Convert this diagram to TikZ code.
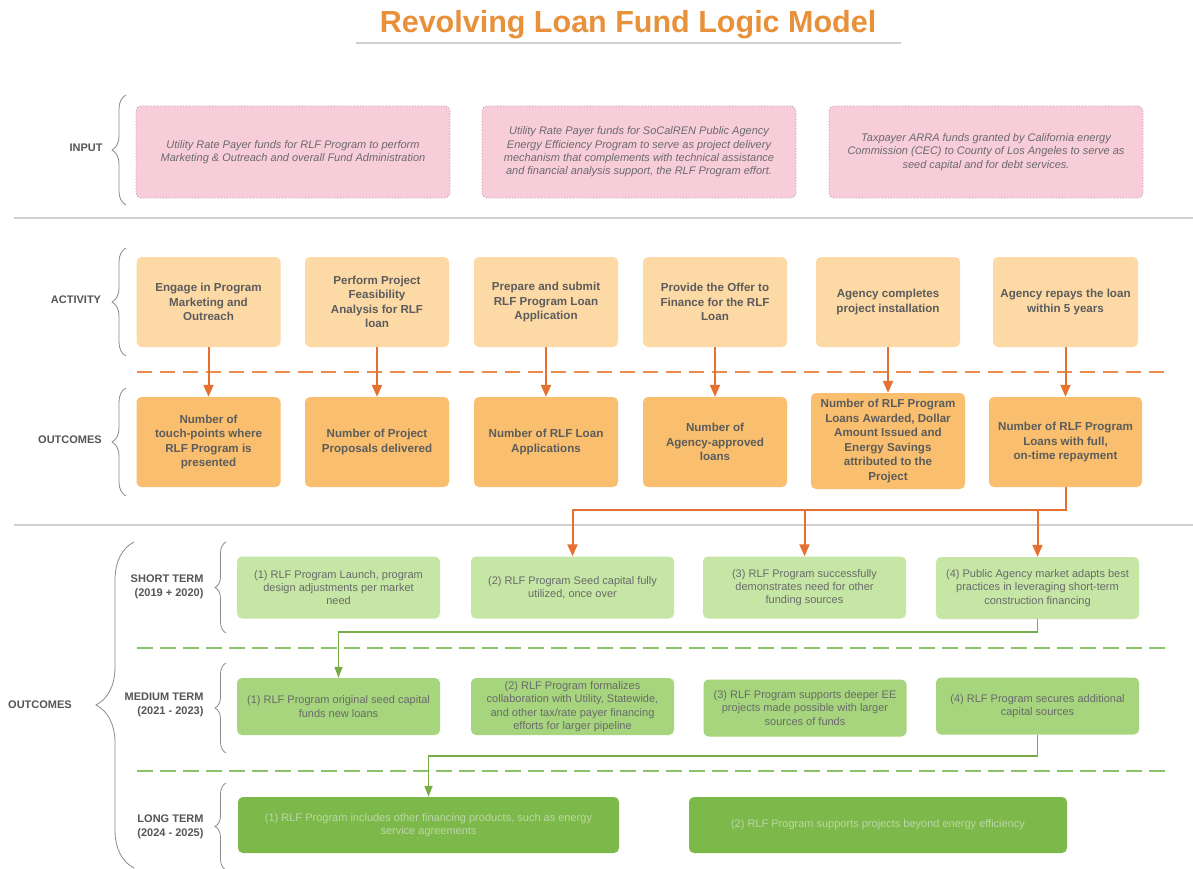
\documentclass[tikz,border=0pt]{standalone}
\usepackage{fontspec}
\setmainfont{Liberation Sans}
\usetikzlibrary{arrows.meta,decorations.pathreplacing,calc}

\definecolor{titleorange}{HTML}{E8913A}
\definecolor{rulegray}{HTML}{CFCFCF}
\definecolor{labeltext}{HTML}{555555}
\definecolor{bracegray}{HTML}{8A8A8A}
\definecolor{inputfill}{HTML}{F8CDDA}
\definecolor{inputborder}{HTML}{B8979F}
\definecolor{inputtext}{HTML}{6A6A6A}
\definecolor{actfill}{HTML}{FDD9A6}
\definecolor{outfill}{HTML}{F9BF6F}
\definecolor{boxtext}{HTML}{5C5C5C}
\definecolor{arroworange}{HTML}{E5702F}
\definecolor{dashorange}{HTML}{EC8B4F}
\definecolor{stfill}{HTML}{C6E6A6}
\definecolor{mtfill}{HTML}{A6D57E}
\definecolor{ltfill}{HTML}{7DB94A}
\definecolor{termtext}{HTML}{6A6A6A}
\definecolor{lttext}{HTML}{BCD6A6}
\definecolor{greenline}{HTML}{76AC46}
\definecolor{dashgreen}{HTML}{8CC26A}

\begin{document}
\begin{tikzpicture}[x=1pt,y=-1pt,
  inputbox/.style={draw=inputborder, dotted, line width=0.9pt, fill=inputfill,
    rounded corners=5pt, font=\fontsize{11}{13.3}\selectfont\itshape,
    text=inputtext, align=center, inner sep=0pt,
    minimum width=314pt, minimum height=92pt},
  actbox/.style={fill=actfill, rounded corners=5pt,
    font=\fontsize{11.6}{14.5}\selectfont\bfseries, text=boxtext,
    align=center, inner sep=0pt, minimum width=144pt, minimum height=90pt},
  outbox/.style={actbox, fill=outfill},
  stbox/.style={fill=stfill, rounded corners=5pt,
    font=\fontsize{11}{13.3}\selectfont, text=termtext, align=center,
    inner sep=0pt, minimum width=203pt, minimum height=62pt},
  mtbox/.style={stbox, fill=mtfill, minimum height=57pt},
  ltbox/.style={stbox, fill=ltfill, text=lttext, minimum height=56pt,
    font=\fontsize{11}{12.5}\selectfont},
  rowlabel/.style={font=\fontsize{11}{14}\selectfont\bfseries, text=labeltext},
  termlabel/.style={rowlabel, align=right, anchor=east},
  brc/.style={decorate, decoration={brace, amplitude=#1},
    draw=bracegray, line width=0.8pt},
  sepline/.style={draw=rulegray, line width=1.3pt},
  oarrow/.style={draw=arroworange, line width=2pt,
    -{Triangle[length=12pt,width=10pt]}},
  garrow/.style={draw=greenline, line width=1.5pt,
    -{Triangle[length=11pt,width=8pt]}},
  odash/.style={draw=dashorange, line width=2.2pt, dash pattern=on 15pt off 8pt},
  gdash/.style={draw=dashgreen, line width=2pt, dash pattern=on 16pt off 7pt}
]
\useasboundingbox (0,0) rectangle (1193,869);
\fill[white] (0,0) rectangle (1193,869);

% ---------- title ----------
\node[font=\fontsize{30.5}{34}\selectfont\bfseries, text=titleorange, anchor=base]
  (title) at (628,33) {Revolving Loan Fund Logic Model};
\draw[draw=rulegray, line width=1.2pt] (356,43) -- (901,43);

% ---------- section rules ----------
\draw[sepline] (14,218) -- (1193,218);
\draw[sepline] (14,525) -- (1193,525);
\draw[odash] (137,372) -- (1165,372);
\draw[gdash] (137,648) -- (1165,648);
\draw[gdash] (137,771) -- (1165,771);

% ---------- row labels and braces ----------
\node[rowlabel] (lblin) at (86,148) {INPUT};
\draw[brc=14pt] (126,205) -- (126,95);
\node[rowlabel] (lblact) at (76,300) {ACTIVITY};
\draw[brc=14pt] (126,356) -- (126,248);
\node[rowlabel] (lblout) at (70,440) {OUTCOMES};
\draw[brc=14pt] (126,496) -- (126,388);

\node[rowlabel] (lblouts) at (40,705) {OUTCOMES};
\draw[brc=38pt] (134,868) -- (134,542);

\node[termlabel] (lblst) at (207,587) {SHORT TERM\\(2019 + 2020)};
\draw[brc=11pt] (226,633) -- (226,542);
\node[termlabel] (lblmt) at (207,704.5) {MEDIUM TERM\\(2021 - 2023)};
\draw[brc=11pt] (226,753) -- (226,663);
\node[termlabel] (lbllt) at (207,826.5) {LONG TERM\\(2024 - 2025)};
\draw[brc=11pt] (226,870) -- (226,783);

% ---------- inputs ----------
\node[inputbox] (in1) at (293,152) {Utility Rate Payer funds for RLF Program to perform\\Marketing \& Outreach and overall Fund Administration};
\node[inputbox] (in2) at (639,152) {Utility Rate Payer funds for SoCalREN Public Agency\\Energy Efficiency Program to serve as project delivery\\mechanism that complements with technical assistance\\and financial analysis support, the RLF Program effort.};
\node[inputbox] (in3) at (986,152) {Taxpayer ARRA funds granted by California energy\\Commission (CEC) to County of Los Angeles to serve as\\seed capital and for debt services.};

% ---------- activities ----------
\node[actbox] (a1) at (208.5,302) {Engage in Program\\Marketing and\\Outreach};
\node[actbox] (a2) at (377,302) {Perform Project\\Feasibility\\Analysis for RLF\\loan};
\node[actbox] (a3) at (546,302) {Prepare and submit\\RLF Program Loan\\Application};
\node[actbox] (a4) at (715,302) {Provide the Offer to\\Finance for the RLF\\Loan};
\node[actbox] (a5) at (888,302) {Agency completes\\project installation};
\node[actbox, minimum width=145pt] (a6) at (1065.5,302) {Agency repays the loan\\within 5 years};

% ---------- activity outcomes ----------
\node[outbox] (o1) at (208.5,442) {Number of\\touch-points where\\RLF Program is\\presented};
\node[outbox] (o2) at (377,442) {Number of Project\\Proposals delivered};
\node[outbox] (o3) at (546,442) {Number of RLF Loan\\Applications};
\node[outbox] (o4) at (715,442) {Number of\\Agency-approved\\loans};
\node[outbox, minimum width=154pt, minimum height=96pt] (o5) at (888,441) {Number of RLF Program\\Loans Awarded, Dollar\\Amount Issued and\\Energy Savings\\attributed to the\\Project};
\node[outbox, minimum width=153pt] (o6) at (1065.5,442) {Number of RLF Program\\Loans with full,\\on-time repayment};

% ---------- short term ----------
\node[stbox] (s1) at (338.5,587.5) {(1) RLF Program Launch, program\\design adjustments per market\\need};
\node[stbox] (s2) at (572.5,587.5) {(2) RLF Program Seed capital fully\\utilized, once over};
\node[stbox] (s3) at (804.5,587.5) {(3) RLF Program successfully\\demonstrates need for other\\funding sources};
\node[stbox] (s4) at (1037.5,588) {(4) Public Agency market adapts best\\practices in leveraging short-term\\construction financing};

% ---------- medium term ----------
\node[mtbox] (m1) at (338.5,706.5) {(1) RLF Program original seed capital\\funds new loans};
\node[mtbox] (m2) at (572.5,706.5) {(2) RLF Program formalizes\\collaboration with Utility, Statewide,\\and other tax/rate payer financing\\efforts for larger pipeline};
\node[mtbox] (m3) at (805,708) {(3) RLF Program supports deeper EE\\projects made possible with larger\\sources of funds};
\node[mtbox] (m4) at (1037.5,706) {(4) RLF Program secures additional\\capital sources};

% ---------- long term ----------
\node[ltbox, minimum width=381pt] (l1) at (428.5,825) {(1) RLF Program includes other financing products, such as energy\\service agreements};
\node[ltbox, minimum width=378pt] (l2) at (878,825) {(2) RLF Program supports projects beyond energy efficiency};

% ---------- connectors ----------
\foreach \i in {1,...,6} {
  \draw[oarrow] (a\i) -- (o\i);
}
\coordinate (ojoin) at (1065.5,510);
\draw[oarrow] (o6) -- (ojoin) -| (s2);
\draw[oarrow] (ojoin -| s3) -- (s3);
\draw[oarrow] (ojoin -| s4) -- (s4);

\coordinate (gjoin1) at (1037.5,632);
\draw[garrow] (s4) -- (gjoin1) -| (m1);
\coordinate (gjoin2) at (1037.5,756);
\draw[garrow] (m4) -- (gjoin2) -| (l1);
\end{tikzpicture}
\end{document}
